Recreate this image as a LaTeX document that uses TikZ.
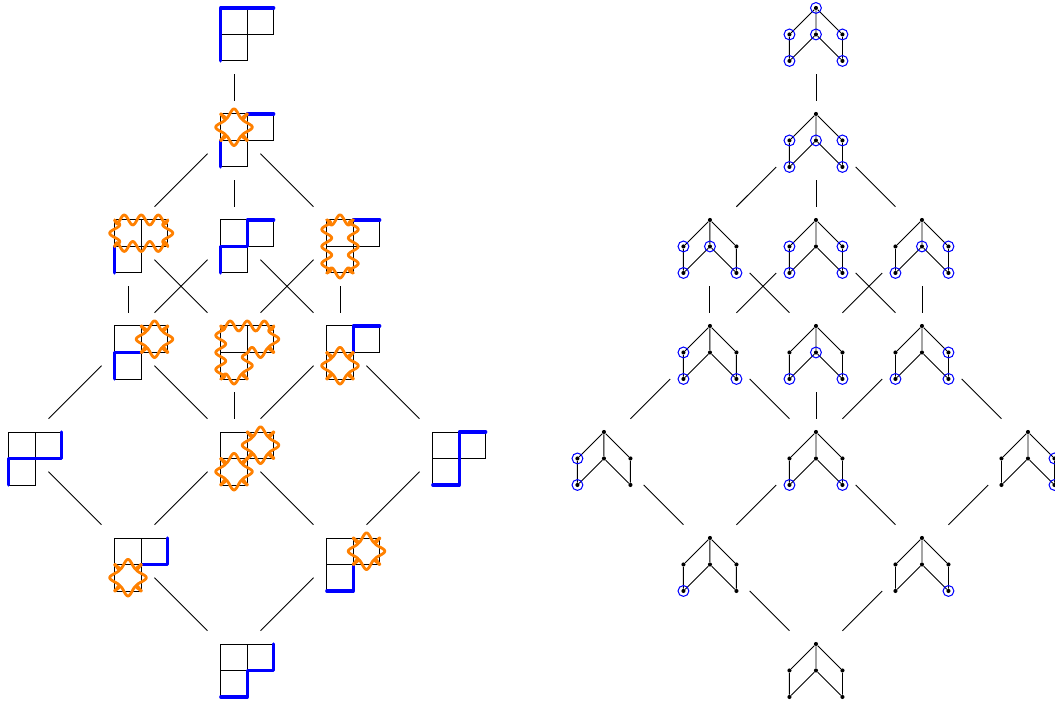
\documentclass[tikz,border=0pt]{standalone}
\usepackage{xcolor}
\usetikzlibrary{arrows.meta}
\definecolor{wiggle}{RGB}{255,128,0}

\tikzset{
  hub/.style={rectangle, minimum size=1cm, inner sep=0pt, outer sep=0pt},
  cellgrid/.style={black, line width=0.5pt},
  trail/.style={blue, line width=1.7pt, line cap=round, line join=round},
  loopy/.style={wiggle, line width=1.5pt, line join=round, line cap=round},
  dot/.style={circle, fill=black, minimum size=2.2pt, inner sep=0pt},
  ring/.style={circle, draw=blue, line width=0.55pt, minimum size=2.05mm, inner sep=0pt},
  upstep/.style={shorten <=0.5cm},
  upstepb/.style={shorten <=0.354cm}
}

% wavy outline: one start/direction per side
\newcommand{\wigpath}[1]{
  \foreach \xa/\ya/\dx/\dy in {#1}{
    \pgfmathsetmacro{\len}{abs(\dx)+abs(\dy)}
    \pgfmathsetmacro{\ux}{\dx/\len}
    \pgfmathsetmacro{\uy}{\dy/\len}
    \draw[loopy] plot[domain=0:\len, samples=41, smooth, variable=\s]
      ({\xa+\ux*\s+\uy*0.19*cos(560.7*(\s-\len/2))*min(1,\s/0.08)*min(1,(\len-\s)/0.08)},
       {\ya+\uy*\s-\ux*0.19*cos(560.7*(\s-\len/2))*min(1,\s/0.08)*min(1,(\len-\s)/0.08)});
  }
}
\newcommand{\wone}{\wigpath{0/0/1/0, 1/0/0/1, 1/1/-1/0, 0/1/0/-1}}
\newcommand{\wtwo}{\wigpath{1/0/1/0, 2/0/0/1, 2/1/-1/0, 1/1/0/-1}}
\newcommand{\wlow}{\wigpath{0/1/1/0, 1/1/0/1, 1/2/-1/0, 0/2/0/-1}}

% young diagram: name, corner, blue path, orange loops
\newcommand{\youngd}[5]{
  \node[hub] (#1) at (#2+0.5,#3+0.5) {};
  \begin{scope}[shift={(#2,#3)}]
    \draw[cellgrid] (0,0) rectangle (1,1) (1,0) rectangle (2,1) (0,1) rectangle (1,2);
    #4
    #5
  \end{scope}
}
% poset: name, apex column, top row, circled points
\newcommand{\posetd}[4]{
  \node[hub] (#1) at (#2,#3+0.5) {};
  \node[dot] (#1a) at (#2,#3) {};
  \node[dot] (#1b) at (#2-1,#3+1) {};
  \node[dot] (#1c) at (#2,#3+1) {};
  \node[dot] (#1d) at (#2+1,#3+1) {};
  \node[dot] (#1e) at (#2-1,#3+2) {};
  \node[dot] (#1f) at (#2+1,#3+2) {};
  \draw[cellgrid] (#1a) -- (#1b) -- (#1e) -- (#1c) -- (#1f) -- (#1d) -- (#1a) -- (#1c);
  \foreach \c in {#4}{
    \node[ring] at (#1\c) {};
  }
}

\begin{document}
\begin{tikzpicture}[x=0.5cm, y=-0.5cm]
  \useasboundingbox (-0.33,-0.30) rectangle (39.48,26.19);

  % left lattice
  \youngd{la}{8}{0}{\draw[trail] (0,2) -- (0,0) -- (2,0);}{}
  \youngd{lb}{8}{4}{\draw[trail] (0,2) -- (0,1) (1,0) -- (2,0);}{\wone}
  \youngd{lc}{4}{8}{\draw[trail] (0,2) -- (0,1);}{\wigpath{0/0/2/0, 2/0/0/1, 2/1/-2/0, 0/1/0/-1}}
  \youngd{ld}{8}{8}{\draw[trail] (0,2) -- (0,1) -- (1,1) -- (1,0) -- (2,0);}{}
  \youngd{le}{12}{8}{\draw[trail] (1,0) -- (2,0);}{\wigpath{0/0/1/0, 1/0/0/2, 1/2/-1/0, 0/2/0/-2}}
  \youngd{lf}{4}{12}{\draw[trail] (0,2) -- (0,1) -- (1,1);}{\wtwo}
  \youngd{lg}{8}{12}{}{\wigpath{0/0/2/0, 2/0/0/1, 2/1/-1/0, 1/1/0/1, 1/2/-1/0, 0/2/0/-2}}
  \youngd{lh}{12}{12}{\draw[trail] (1,1) -- (1,0) -- (2,0);}{\wlow}
  \youngd{li}{0}{16}{\draw[trail] (0,2) -- (0,1) -- (2,1) -- (2,0);}{}
  \youngd{lj}{8}{16}{}{\wtwo \wlow}
  \youngd{lk}{16}{16}{\draw[trail] (0,2) -- (1,2) -- (1,0) -- (2,0);}{}
  \youngd{ll}{4}{20}{\draw[trail] (1,1) -- (2,1) -- (2,0);}{\wlow}
  \youngd{lm}{12}{20}{\draw[trail] (0,2) -- (1,2) -- (1,1);}{\wtwo}
  \youngd{ln}{8}{24}{\draw[trail] (0,2) -- (1,2) -- (1,1) -- (2,1) -- (2,0);}{}

  % right lattice
  \posetd{ra}{30.46}{0}{a,b,c,d,e,f}
  \posetd{rb}{30.46}{4}{b,c,d,e,f}
  \posetd{rc}{26.46}{8}{b,c,e,f}
  \posetd{rd}{30.46}{8}{b,d,e,f}
  \posetd{re}{34.46}{8}{c,d,e,f}
  \posetd{rf}{26.46}{12}{b,e,f}
  \posetd{rg}{30.46}{12}{c,e,f}
  \posetd{rh}{34.46}{12}{d,e,f}
  \posetd{ri}{22.46}{16}{b,e}
  \posetd{rj}{30.46}{16}{e,f}
  \posetd{rk}{38.46}{16}{d,f}
  \posetd{rl}{26.46}{20}{e}
  \posetd{rm}{34.46}{20}{f}
  \posetd{rn}{30.46}{24}{}

  % connectors
  \foreach \a/\b in {la/lb, lb/ld, lc/lf, le/lh, lg/lj}{
    \draw[cellgrid, upstep] (\a) -- (\b);
  }
  \foreach \a/\b in {lb/lc, lb/le, lc/lg, ld/lf, ld/lh, le/lg, lf/li, lf/lj, lh/lj, lh/lk,
                     li/ll, lj/ll, lj/lm, lk/lm, ll/ln, lm/ln}{
    \draw[cellgrid] (\a) -- (\b);
  }
  \foreach \a/\b in {ra/rb, rb/rd, rc/rf, re/rh, rg/rj}{
    \draw[cellgrid, upstep] (\a) -- (\b);
  }
  \foreach \a/\b in {rb/rc, rb/re, rc/rg, rd/rf, rd/rh, re/rg, rf/ri, rf/rj, rh/rj, rh/rk,
                     ri/rl, rj/rl, rj/rm, rk/rm, rl/rn, rm/rn}{
    \draw[cellgrid, upstepb] (\a) -- (\b);
  }
\end{tikzpicture}
\end{document}
